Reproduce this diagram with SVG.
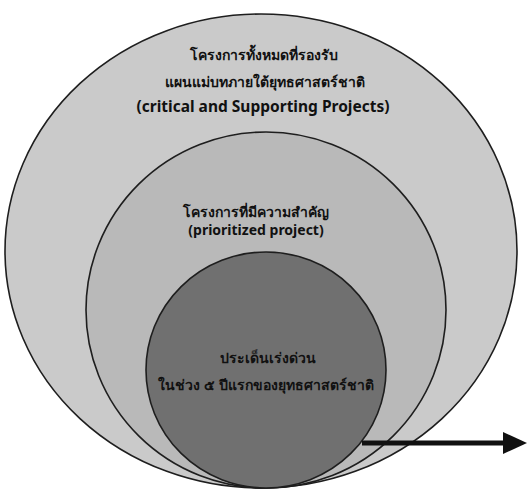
<svg xmlns="http://www.w3.org/2000/svg" width="529" height="491" viewBox="0 0 529 491">
  <style>
    .ring { stroke: #1e1e1e; stroke-width: 1.6; }
    .t { font-family: "Noto Sans", "DejaVu Sans", "Liberation Sans", sans-serif; font-weight: bold; font-size: 14px; fill: #111; text-anchor: middle; }
    .big { font-size: 15.5px; }
    .conn { stroke: #111; stroke-width: 5; fill: none; }
  </style>
  <defs>
    <marker id="head" markerUnits="userSpaceOnUse" markerWidth="24" markerHeight="22" refX="0" refY="11" orient="auto">
      <polygon points="0,0 24,11 0,22" fill="#111"/>
    </marker>
  </defs>
  <rect width="529" height="491" fill="#ffffff"/>
  <g id="outer">
    <ellipse class="ring" cx="261" cy="251" rx="256" ry="237" fill="#cacaca"/>
    <text class="t" x="264" y="60">โครงการทั้งหมดที่รองรับ</text>
    <text class="t" x="265" y="87">แผนแม่บทภายใต้ยุทธศาสตร์ชาติ</text>
    <text class="t big" x="263" y="112">(critical and Supporting Projects)</text>
  </g>
  <g id="middle">
    <ellipse class="ring" cx="266" cy="310" rx="180" ry="178" fill="#b9b9b9"/>
    <text class="t" x="256" y="217">โครงการที่มีความสำคัญ</text>
    <text class="t" x="256" y="235">(prioritized project)</text>
  </g>
  <g id="inner">
    <ellipse class="ring" cx="266" cy="370" rx="120" ry="118" fill="#707070"/>
    <text class="t" x="268" y="363">ประเด็นเร่งด่วน</text>
    <text class="t" x="266" y="390">ในช่วง ๕ ปีแรกของยุทธศาสตร์ชาติ</text>
  </g>
  <g id="connectors">
    <line class="conn" x1="362" y1="443" x2="503" y2="443" marker-end="url(#head)"/>
  </g>
</svg>
